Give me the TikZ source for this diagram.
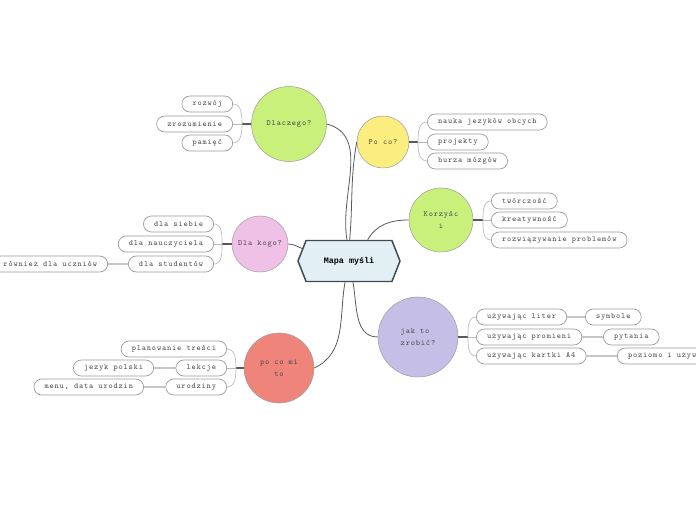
\documentclass[tikz,border=0pt]{standalone}
\usepackage{fontspec}
\newfontfamily\mapfont[LetterSpace=10]{Latin Modern Mono}
\newfontfamily\topicfont{Liberation Mono}
\usetikzlibrary{shapes.symbols}

\definecolor{txt}{HTML}{4E4E4E}
\definecolor{hexfill}{HTML}{E2EFF4}
\definecolor{hexline}{HTML}{3D4A50}
\definecolor{cgreen}{HTML}{C8F07A}
\definecolor{cyellow}{HTML}{FCEE7E}
\definecolor{cpink}{HTML}{EFC1E7}
\definecolor{csalmon}{HTML}{EE847A}
\definecolor{clav}{HTML}{C5BFE7}

\tikzset{
  hexa/.style={signal, signal to=east and west, signal pointer angle=137,
    draw=hexline, line width=1.1pt, fill=hexfill, minimum width=76.5pt,
    minimum height=30.75pt, inner sep=0pt,
    font=\topicfont\bfseries\fontsize{6.3}{7}\selectfont, text=black},
  idea/.style={circle, draw=gray!75, line width=0.4pt, inner sep=0pt,
    align=center, font=\mapfont\fontsize{6}{9.5}\selectfont, text=txt},
  leaf/.style={rectangle, rounded corners=6pt, draw=gray!80, line width=0.5pt,
    minimum height=12pt, inner xsep=8pt, inner ysep=0pt, fill=white,
    font=\mapfont\fontsize{6}{7}\selectfont, text=txt},
  branch/.style={draw=black!65, line width=0.6pt},
  stem/.style={draw=black!65, line width=1pt},
  twig/.style={draw=gray!55, line width=0.5pt},
  link/.style={draw=gray!45, line width=1.2pt}
}

\begin{document}
\begin{tikzpicture}[x=0.75pt,y=0.75pt]
\useasboundingbox (0,0) rectangle (696,-520);
\clip (0,0) rectangle (696,-520);

% centre
\node[hexa] (mapa) at (349,-261) {Mapa myśli};

% main topics
\node[idea, fill=cgreen, minimum size=56.25pt] (dlaczego) at (289,-124) {Dlaczego?};
\node[idea, fill=cyellow, minimum size=39pt] (poco) at (383,-142) {Po co?};
\node[idea, fill=cgreen, minimum size=48pt] (korzysci) at (441,-220) {Korzyśc\\i};
\node[idea, fill=cpink, minimum size=42pt] (dlakogo) at (260,-244) {Dla kogo?};
\node[idea, fill=csalmon, minimum size=52.5pt] (pocomi) at (279,-368) {po co mi\\to};
\node[idea, fill=clav, minimum size=60pt, align=left] (jakto) at (418,-337) {jak to\\zrobić?};

\draw[branch] (dlaczego.east) to[out=-15,in=100] ([xshift=-1.5pt]mapa.north);
\draw[branch] (poco.west) to[out=-100,in=85] ([xshift=0.5pt]mapa.north);
\draw[branch] (korzysci.west) to[out=180,in=60] ([xshift=14pt]mapa.north);
\draw[branch] (dlakogo.east) to[out=0,in=160] (mapa.165);
\draw[branch] (pocomi.east) to[out=25,in=-100] ([xshift=-3pt]mapa.south);
\draw[branch] (jakto.west) to[out=180,in=-80] ([xshift=3pt]mapa.south);

% Dlaczego?
\node[leaf, anchor=east] (rozwoj) at (233,-104) {rozwój};
\node[leaf, anchor=east] (zrozumienie) at (233,-124) {zrozumienie};
\node[leaf, anchor=east] (pamiec) at (233,-143) {pamięć};
\coordinate (jdl) at (242,-124);
\draw[stem] (dlaczego.west) -- (jdl);
\draw[twig] (jdl) to[out=90,in=0] (rozwoj.east);
\draw[twig] (jdl) -- (zrozumienie.east);
\draw[twig] (jdl) to[out=-90,in=0] (pamiec.east);

% Po co?
\node[leaf, anchor=west] (jezyki) at (427,-122) {nauka jezyków obcych};
\node[leaf, anchor=west] (projekty) at (427,-142) {projekty};
\node[leaf, anchor=west] (burza) at (427,-161) {burza mózgów};
\coordinate (jpc) at (418,-142);
\draw[stem] (poco.east) -- (jpc);
\draw[twig] (jpc) to[out=90,in=180] (jezyki.west);
\draw[twig] (jpc) -- (projekty.west);
\draw[twig] (jpc) to[out=-90,in=180] (burza.west);

% Korzysci
\node[leaf, anchor=west] (tworczosc) at (491,-201) {twórczość};
\node[leaf, anchor=west] (kreatywnosc) at (491,-220) {kreatywność};
\node[leaf, anchor=west] (problemy) at (491,-240) {rozwiązywanie problemów};
\coordinate (jko) at (483,-220);
\draw[stem] (korzysci.east) -- (jko);
\draw[twig] (jko) to[out=90,in=180] (tworczosc.west);
\draw[twig] (jko) -- (kreatywnosc.west);
\draw[twig] (jko) to[out=-90,in=180] (problemy.west);

% Dla kogo?
\node[leaf, anchor=east] (siebie) at (214,-224) {dla siebie};
\node[leaf, anchor=east] (nauczyciel) at (214,-244) {dla nauczyciela};
\node[leaf, anchor=east] (studenci) at (214,-264) {dla studentów};
\node[leaf, anchor=east] (uczniowie) at (108,-264) {również dla uczniów};
\coordinate (jdk) at (222,-244);
\draw[stem] (dlakogo.west) -- (jdk);
\draw[twig] (jdk) to[out=90,in=0] (siebie.east);
\draw[twig] (jdk) -- (nauczyciel.east);
\draw[twig] (jdk) to[out=-90,in=0] (studenci.east);
\draw[link] (uczniowie.east) -- (studenci.west);

% po co mi to
\node[leaf, anchor=east] (planowanie) at (227,-349) {planowanie treści};
\node[leaf, anchor=east] (lekcje) at (227,-368) {lekcje};
\node[leaf, anchor=east] (urodziny) at (227,-387) {urodziny};
\node[leaf, anchor=east] (polski) at (154,-368) {jezyk polski};
\node[leaf, anchor=east] (menu) at (144,-387) {menu, data urodzin};
\coordinate (jpm) at (236,-368);
\draw[stem] (pocomi.west) -- (jpm);
\draw[twig] (jpm) to[out=90,in=0] (planowanie.east);
\draw[twig] (jpm) -- (lekcje.east);
\draw[twig] (jpm) to[out=-90,in=0] (urodziny.east);
\draw[link] (polski.east) -- (lekcje.west);
\draw[link] (menu.east) -- (urodziny.west);

% jak to zrobic?
\node[leaf, anchor=west] (litery) at (476,-317) {używając liter};
\node[leaf, anchor=west] (promienie) at (476,-337) {używając promieni};
\node[leaf, anchor=west] (kartka) at (476,-356) {używając kartki A4};
\node[leaf, anchor=west] (symbole) at (585,-317) {symbole};
\node[leaf, anchor=west] (pytania) at (603,-337) {pytania};
\node[leaf, anchor=west] (poziomo) at (617,-356) {poziomo i używając};
\coordinate (jjt) at (468,-337);
\draw[stem] (jakto.east) -- (jjt);
\draw[twig] (jjt) to[out=90,in=180] (litery.west);
\draw[twig] (jjt) -- (promienie.west);
\draw[twig] (jjt) to[out=-90,in=180] (kartka.west);
\draw[link] (litery.east) -- (symbole.west);
\draw[link] (promienie.east) -- (pytania.west);
\draw[link] (kartka.east) -- (poziomo.west);
\end{tikzpicture}
\end{document}
